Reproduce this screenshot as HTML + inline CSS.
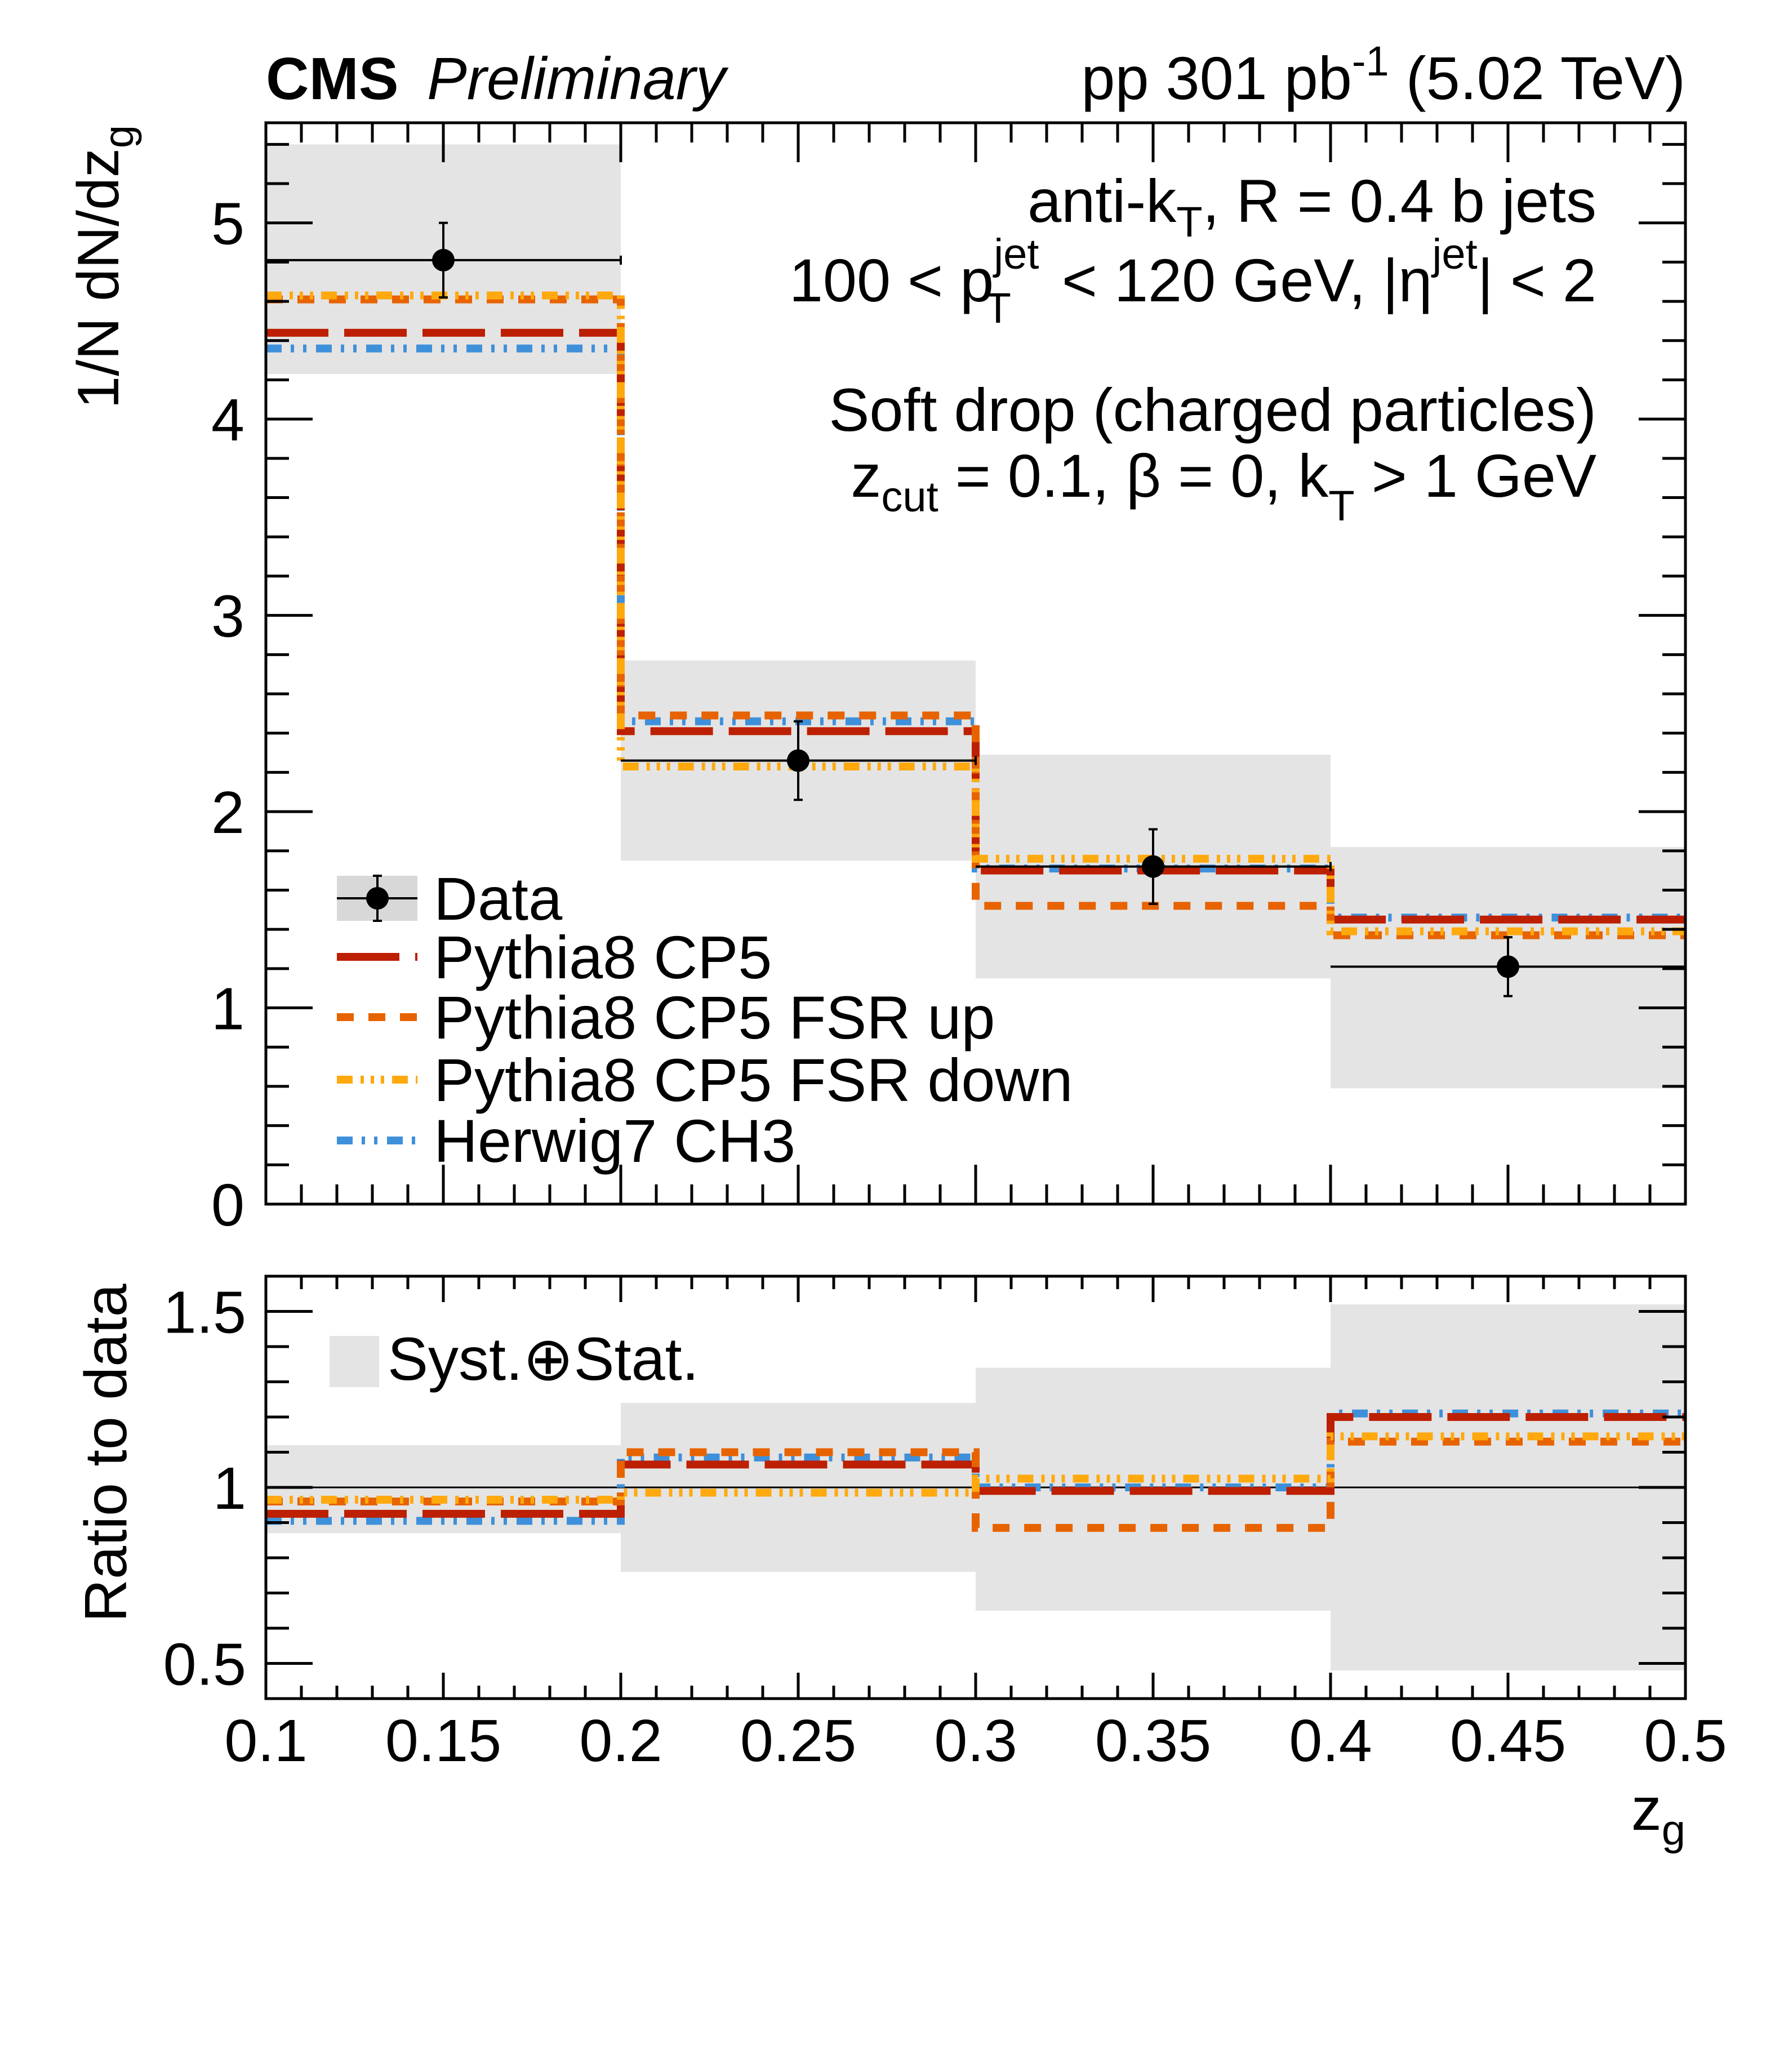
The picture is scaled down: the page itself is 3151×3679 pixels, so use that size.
<!DOCTYPE html>
<html><head><meta charset="utf-8">
<style>
html,body{margin:0;padding:0;background:#fff;}
svg{display:block;font-family:"Liberation Sans",Arial,sans-serif;}
</style></head>
<body>
<svg id="chart" width="3151" height="3679" viewBox="0 0 3151 3679" xmlns="http://www.w3.org/2000/svg">
<g id="layer"></g>
</svg>
<script>
const binEdges = [0.1, 0.2, 0.3, 0.4, 0.5];
const dataVals = [4.81, 2.26, 1.72, 1.21];
const dataStatLo = [4.62, 2.06, 1.53, 1.06];
const dataStatHi = [5.00, 2.46, 1.91, 1.36];
const systLo = [4.23, 1.75, 1.15, 0.59];
const systHi = [5.40, 2.77, 2.29, 1.82];
const cp5 = [4.44, 2.41, 1.70, 1.45];
const fsrUp = [4.61, 2.49, 1.52, 1.37];
const fsrDown = [4.63, 2.23, 1.76, 1.39];
const herwig = [4.36, 2.46, 1.71, 1.46];
const ratioSystLo = [0.87, 0.76, 0.65, 0.48];
const ratioSystHi = [1.12, 1.24, 1.34, 1.52];
const ratioCp5 = [0.925, 1.065, 0.99, 1.20];
const ratioFsrUp = [0.96, 1.10, 0.885, 1.13];
const ratioFsrDown = [0.965, 0.985, 1.025, 1.145];
const ratioHerwig = [0.905, 1.085, 1.0, 1.21];
const xTickLabels = ["0.1","0.15","0.2","0.25","0.3","0.35","0.4","0.45","0.5"];
const yTickLabels = ["0","1","2","3","4","5"];
const ratioTickLabels = ["0.5","1","1.5"];

const NS = "http://www.w3.org/2000/svg";
const L = 472, R = 2992;
const T1 = 218, B1 = 2138, Y1MAX = 5.51;
const T2 = 2266, B2 = 3016, Y2MIN = 0.4, Y2MAX = 1.6;
const sx = v => L + (v - 0.1) / 0.4 * (R - L);
const sy1 = v => B1 - v / Y1MAX * (B1 - T1);
const sy2 = v => B2 - (v - Y2MIN) / (Y2MAX - Y2MIN) * (B2 - T2);
const layer = document.getElementById('layer');
function mk(tag, attrs, parent) {
  const e = document.createElementNS(NS, tag);
  for (const k in attrs) e.setAttribute(k, attrs[k]);
  (parent || layer).appendChild(e);
  return e;
}
function txt(x, y, s, size, anchor, extra, parent) {
  const t = mk('text', Object.assign({x: x, y: y, 'font-size': size, 'text-anchor': anchor || 'start', fill: '#000'}, extra || {}), parent);
  t.innerHTML = s;
  return t;
}
const styles = {
  cp5: {c: '#bd1f01', d: '111 28'},
  up: {c: '#e76300', d: '30 26'},
  down: {c: '#ffa90e', d: '28 14 6 12 6 12 6 14'},
  hw: {c: '#3f90da', d: '28 16 6 16 6 17'}
};
function stepPath(vals, sy) {
  let d = '';
  vals.forEach((v, i) => {
    const x0 = sx(binEdges[i]), x1 = sx(binEdges[i + 1]);
    d += (i === 0 ? 'M' : 'L') + x0 + ' ' + sy(v) + ' L' + x1 + ' ' + sy(v) + ' ';
  });
  return d;
}

systLo.forEach((lo, i) => {
  const r = mk('rect', {x: sx(binEdges[i]), y: sy1(systHi[i]), width: sx(binEdges[i+1]) - sx(binEdges[i]), height: sy1(lo) - sy1(systHi[i]), fill: '#e4e4e4'});
  
  
});
[[herwig,'hw','herwig7-ch3-line'],[cp5,'cp5','pythia8-cp5-line'],[fsrUp,'up','pythia8-fsr-up-line'],[fsrDown,'down','pythia8-fsr-down-line']].forEach(([vals, k, name]) => {
  const p = mk('path', {d: stepPath(vals, sy1), fill: 'none', stroke: styles[k].c, 'stroke-width': 14, 'stroke-dasharray': styles[k].d});
  
  
});
dataVals.forEach((v, i) => {
  const g = mk('g', {});
  
  
  const xc = sx((binEdges[i] + binEdges[i+1]) / 2);
  mk('line', {x1: sx(binEdges[i]), x2: sx(binEdges[i+1]), y1: sy1(v), y2: sy1(v), stroke: '#000', 'stroke-width': 4}, g);
  mk('line', {x1: sx(binEdges[i+1]), x2: sx(binEdges[i+1]), y1: sy1(v) - 8, y2: sy1(v) + 8, stroke: '#000', 'stroke-width': 4}, g);
  mk('line', {x1: xc, x2: xc, y1: sy1(dataStatHi[i]), y2: sy1(dataStatLo[i]), stroke: '#000', 'stroke-width': 4}, g);
  mk('line', {x1: xc - 8, x2: xc + 8, y1: sy1(dataStatHi[i]), y2: sy1(dataStatHi[i]), stroke: '#000', 'stroke-width': 4}, g);
  mk('line', {x1: xc - 8, x2: xc + 8, y1: sy1(dataStatLo[i]), y2: sy1(dataStatLo[i]), stroke: '#000', 'stroke-width': 4}, g);
  mk('circle', {cx: xc, cy: sy1(v), r: 20, fill: '#000'}, g);
});

ratioSystLo.forEach((lo, i) => {
  const r = mk('rect', {x: sx(binEdges[i]), y: sy2(ratioSystHi[i]), width: sx(binEdges[i+1]) - sx(binEdges[i]), height: sy2(lo) - sy2(ratioSystHi[i]), fill: '#e4e4e4'});
  
  
});
const one = mk('line', {x1: L, x2: R, y1: sy2(1), y2: sy2(1), stroke: '#000', 'stroke-width': 3});


[[ratioHerwig,'hw','ratio-herwig7-ch3-line'],[ratioCp5,'cp5','ratio-pythia8-cp5-line'],[ratioFsrUp,'up','ratio-pythia8-fsr-up-line'],[ratioFsrDown,'down','ratio-pythia8-fsr-down-line']].forEach(([vals, k, name]) => {
  const p = mk('path', {d: stepPath(vals, sy2), fill: 'none', stroke: styles[k].c, 'stroke-width': 14, 'stroke-dasharray': styles[k].d});
  
  
});

function frame(T, B, name) {
  const r = mk('rect', {x: L, y: T, width: R - L, height: B - T, fill: 'none', stroke: '#000', 'stroke-width': 5});
  
  
}
frame(T1, B1, 'top-plot-frame');
frame(T2, B2, 'ratio-plot-frame');
function xTicks(T, B, maj, min) {
  for (let k = 0; k <= 40; k++) {
    const v = 0.1 + k * 0.01, x = sx(v), len = (k % 5 === 0) ? maj : min;
    mk('line', {x1: x, x2: x, y1: B, y2: B - len, stroke: '#000', 'stroke-width': 5});
    mk('line', {x1: x, x2: x, y1: T, y2: T + len, stroke: '#000', 'stroke-width': 5});
  }
}
xTicks(T1, B1, 70, 35);
xTicks(T2, B2, 46, 23);
for (let k = 0; k <= 27; k++) {
  const v = k * 0.2, y = sy1(v), len = (k % 5 === 0) ? 83 : 41;
  mk('line', {x1: L, x2: L + len, y1: y, y2: y, stroke: '#000', 'stroke-width': 5});
  mk('line', {x1: R, x2: R - len, y1: y, y2: y, stroke: '#000', 'stroke-width': 5});
}
yTickLabels.forEach(s => {
  const t = txt(434, sy1(parseFloat(s)) + 38, s, 106, 'end');
  
  
});
for (let k = 0; k <= 12; k++) {
  const v = 0.4 + k * 0.1, y = sy2(v), len = (k % 5 === 1) ? 83 : 41;
  mk('line', {x1: L, x2: L + len, y1: y, y2: y, stroke: '#000', 'stroke-width': 5});
  mk('line', {x1: R, x2: R - len, y1: y, y2: y, stroke: '#000', 'stroke-width': 5});
}
ratioTickLabels.forEach(s => {
  const t = txt(437, sy2(parseFloat(s)) + 38, s, 106, 'end');
  
  
});
xTickLabels.forEach(s => {
  const t = txt(sx(parseFloat(s)), 3127, s, 106, 'middle');
  
  
});

let t;
t = txt(472, 176, 'CMS', 106, 'start', {'font-weight': 'bold'});
 
t = txt(758, 176, 'Preliminary', 106, 'start', {'font-style': 'italic'});
 
t = txt(2992, 176, 'pp 301 pb<tspan dy="-42" font-size="74">-1</tspan><tspan dy="42"> (5.02 TeV)</tspan>', 108, 'end');
 

t = txt(2834, 394, 'anti-k<tspan dy="26" font-size="76">T</tspan><tspan dy="-26">, R = 0.4 b jets</tspan>', 108, 'end');
 
t = txt(2834, 535, '100 &lt; p<tspan dy="-58" font-size="76">jet</tspan><tspan dx="-96" dy="96" font-size="76">T</tspan><tspan dx="60" dy="-38"> &lt; 120 GeV, |η</tspan><tspan dy="-58" font-size="76">jet</tspan><tspan dy="58">| &lt; 2</tspan>', 108, 'end');
 
t = txt(2834, 765, 'Soft drop (charged particles)', 108, 'end');
 
t = txt(2834, 882, 'z<tspan dy="26" font-size="76">cut</tspan><tspan dy="-26"> = 0.1, β = 0, k</tspan><tspan dy="42" font-size="76">T</tspan><tspan dy="-42"> &gt; 1 GeV</tspan>', 108, 'end');
 

t = txt(0, 0, '1/N dN/dz<tspan dy="26" font-size="74">g</tspan>', 104, 'end', {transform: 'translate(210,222) rotate(-90)'});
 
t = txt(0, 0, 'Ratio to data', 106, 'middle', {transform: 'translate(224,2580) rotate(-90)'});
 
t = txt(2992, 3249, 'z<tspan dy="26" font-size="76">g</tspan>', 108, 'end');
 

const legY = [1595, 1699, 1806, 1917, 2025];
const legNames = ['Data', 'Pythia8 CP5', 'Pythia8 CP5 FSR up', 'Pythia8 CP5 FSR down', 'Herwig7 CH3'];
const legKeys = [null, 'cp5', 'up', 'down', 'hw'];
legNames.forEach((n, i) => {
  const g = mk('g', {});
  
  
  const y = legY[i];
  if (i === 0) {
    mk('rect', {x: 598, y: y - 40, width: 143, height: 80, fill: '#d8d8d8'}, g);
    mk('line', {x1: 598, x2: 741, y1: y, y2: y, stroke: '#000', 'stroke-width': 4}, g);
    mk('line', {x1: 670, x2: 670, y1: y - 40, y2: y + 40, stroke: '#000', 'stroke-width': 4}, g);
    mk('line', {x1: 662, x2: 678, y1: y - 40, y2: y - 40, stroke: '#000', 'stroke-width': 4}, g);
    mk('line', {x1: 662, x2: 678, y1: y + 40, y2: y + 40, stroke: '#000', 'stroke-width': 4}, g);
    mk('circle', {cx: 670, cy: y, r: 20, fill: '#000'}, g);
  } else {
    const s = styles[legKeys[i]];
    mk('line', {x1: 598, x2: 741, y1: y, y2: y, stroke: s.c, 'stroke-width': 14, 'stroke-dasharray': s.d}, g);
  }
  txt(770, y + 38, n, 108, 'start', {}, g);
});
const sg = mk('g', {});


mk('rect', {x: 585, y: 2372, width: 88, height: 91, fill: '#e4e4e4'}, sg);
txt(688, 2450, 'Syst.⊕Stat.', 108, 'start', {}, sg);
</script>
</body></html>
